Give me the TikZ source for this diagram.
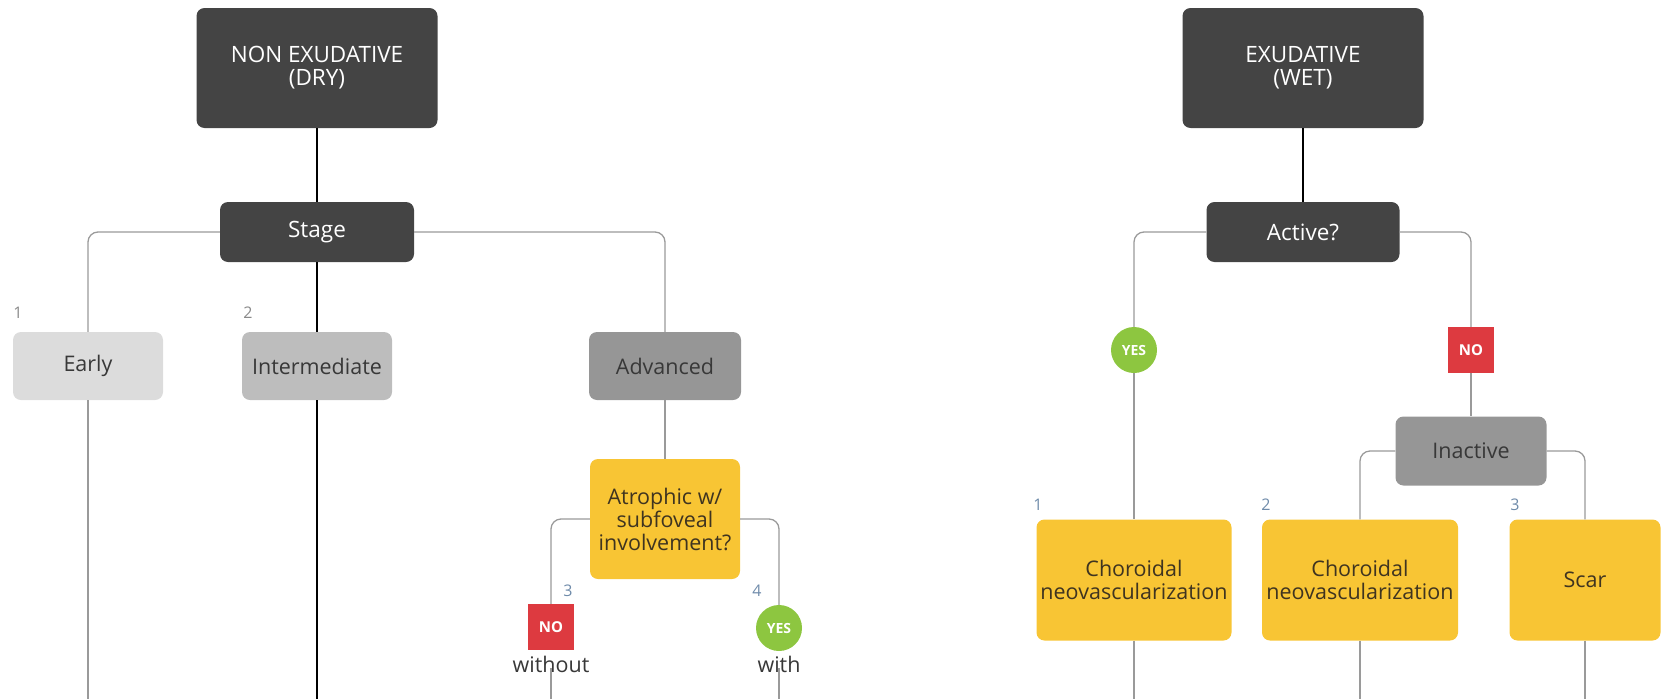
\documentclass[tikz,border=0pt]{standalone}
\usepackage{fontspec}
\setmainfont{Open Sans}
\definecolor{cdark}{HTML}{444444}
\definecolor{cearly}{HTML}{DCDCDC}
\definecolor{cinter}{HTML}{BDBDBD}
\definecolor{cadv}{HTML}{969696}
\definecolor{cyel}{HTML}{F8C534}
\definecolor{cred}{HTML}{DD3A40}
\definecolor{cgreen}{HTML}{8DC640}
\definecolor{ctext}{HTML}{383838}
\definecolor{cyeltext}{HTML}{3F3420}
\definecolor{cline}{HTML}{9A9A9A}
\definecolor{cnumgray}{HTML}{8A8A8A}
\definecolor{cnumblue}{HTML}{6F8BAA}
\tikzset{
  box/.style={rectangle, rounded corners=8pt, align=center, inner sep=0pt,
    font=\fontsize{21.5}{23}\selectfont},
  darkbox/.style={box, fill=cdark, text=white, font=\fontsize{22.5}{23}\selectfont},
  graybox/.style={box, text=ctext},
  yelbox/.style={box, fill=cyel, text=cyeltext},
  nobox/.style={rectangle, fill=cred, text=white, minimum width=46pt, minimum height=46pt,
    inner sep=0pt, font=\fontsize{15}{15}\selectfont\bfseries},
  yescirc/.style={circle, fill=cgreen, text=white, minimum size=46pt, inner sep=0pt,
    font=\fontsize{14}{14}\selectfont\bfseries},
  thickline/.style={draw=black, line width=2pt},
  thinline/.style={draw=cline, line width=1.3pt, rounded corners=10pt},
  numgray/.style={text=cnumgray, font=\fontsize{16}{16}\selectfont, inner sep=0pt},
  numblue/.style={text=cnumblue, font=\fontsize{16}{16}\selectfont, inner sep=0pt},
  word/.style={text=ctext, font=\fontsize{21.5}{21.5}\selectfont, inner sep=0pt},
}
\begin{document}
\begin{tikzpicture}[x=1pt, y=-1pt]
\useasboundingbox (0,0) rectangle (1668,699);
\coordinate (bot) at (0,699);
% ---------- left: non exudative ----------
\node[darkbox, minimum width=241pt, minimum height=120pt] (dry) at (317,68) {NON EXUDATIVE\\(DRY)};
\node[darkbox, minimum width=194pt, minimum height=60pt] (stage) at (317,232) {Stage};
\node[graybox, fill=cearly, minimum width=150pt, minimum height=68pt] (early) at (88,366) {Early};
\node[graybox, fill=cinter, minimum width=150pt, minimum height=68pt] (inter) at (317,366) {Intermediate};
\node[graybox, fill=cadv, minimum width=152pt, minimum height=68pt] (adv) at (665,366) {Advanced};
\node[yelbox, minimum width=150pt, minimum height=120pt] (atro) at (665,519) {Atrophic w/\\subfoveal\\involvement?};
\node[nobox] (no1) at (551,627) {NO};
\node[yescirc] (yes1) at (779,628) {YES};
\node[word] (without) at (551,664) {without};
\node[word] (with) at (779,664) {with};
\node[numgray] (n1) at (18,313) {1};
\node[numgray] (n2) at (248,313) {2};
\node[numblue] (n3) at (568,591) {3};
\node[numblue] (n4) at (757,591) {4};

\draw[thickline] (dry) -- (stage);
\draw[thickline] (stage) -- (inter);
\draw[thickline] (inter.south) -- (inter.south |- bot);
\draw[thinline] (stage.west) -| (early.north);
\draw[thinline] (stage.east) -| (adv.north);
\draw[thinline] (early.south) -- (early.south |- bot);
\draw[thinline] (adv) -- (atro);
\draw[thinline] (atro.west) -| (no1.north);
\draw[thinline] (atro.east) -| (yes1.north);
\draw[thinline] ([yshift=4pt]without.south) -- (without.south |- bot);
\draw[thinline] ([yshift=4pt]with.south) -- (with.south |- bot);

% ---------- right: exudative ----------
\node[darkbox, minimum width=241pt, minimum height=120pt] (wet) at (1303,68) {EXUDATIVE\\(WET)};
\node[darkbox, minimum width=193pt, minimum height=60pt] (active) at (1303,232) {Active?};
\node[yescirc] (yes2) at (1134,350) {YES};
\node[nobox] (no2) at (1471,350) {NO};
\node[graybox, fill=cadv, minimum width=151pt, minimum height=69pt] (inactive) at (1471,451) {Inactive};
\node[yelbox, minimum width=195pt, minimum height=121pt] (cnv1) at (1134,580) {Choroidal\\neovascularization};
\node[yelbox, minimum width=196pt, minimum height=121pt] (cnv2) at (1360,580) {Choroidal\\neovascularization};
\node[yelbox, minimum width=151pt, minimum height=121pt] (scar) at (1585,580) {Scar};
\node[numblue] (m1) at (1038,505) {1};
\node[numblue] (m2) at (1266,505) {2};
\node[numblue] (m3) at (1515,505) {3};

\draw[thickline] (wet) -- (active);
\draw[thinline] (active.west) -| (yes2.north);
\draw[thinline] (yes2.south) -- (cnv1.north);
\draw[thinline] (active.east) -| (no2.north);
\draw[thinline] (no2) -- (inactive);
\draw[thinline] (inactive.west) -| (cnv2.north);
\draw[thinline] (inactive.east) -| (scar.north);
\draw[thinline] (cnv1.south) -- (cnv1.south |- bot);
\draw[thinline] (cnv2.south) -- (cnv2.south |- bot);
\draw[thinline] (scar.south) -- (scar.south |- bot);
\end{tikzpicture}
\end{document}
